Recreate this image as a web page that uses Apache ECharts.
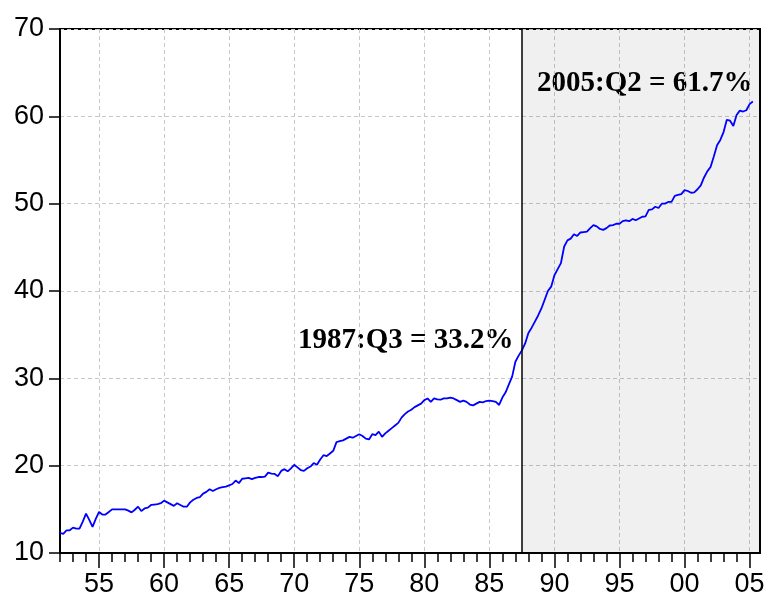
<!DOCTYPE html>
<html>
<head>
<meta charset="utf-8">
<script src="https://cdn.jsdelivr.net/npm/echarts@6/dist/echarts.min.js"></script>
<style>
  html, body { margin: 0; padding: 0; background: #fff; }
  #main { width: 770px; height: 598px; }
</style>
</head>
<body>
<div id="main"></div>
<script>
// quarterly share, 1952:Q1 .. 2005:Q2
let startYear = 1952;
let values = [
  12.3, 12.2, 12.6, 12.6,   // 1952
  12.9, 12.8, 12.8, 13.6,   // 1953
  14.5, 13.8, 13.0, 13.9,   // 1954
  14.7, 14.4, 14.4, 14.7,   // 1955
  15.0, 15.0, 15.0, 15.0,   // 1956
  15.0, 14.85, 14.65, 14.95,// 1957
  15.3, 14.8, 15.1, 15.2,   // 1958
  15.5, 15.55, 15.6, 15.7,  // 1959
  16.0, 15.8, 15.6, 15.4,   // 1960
  15.7, 15.5, 15.3, 15.3,   // 1961
  15.8, 16.1, 16.3, 16.4,   // 1962
  16.8, 17.0, 17.3, 17.1,   // 1963
  17.3, 17.45, 17.55, 17.6, // 1964
  17.75, 17.9, 18.3, 18.0,  // 1965
  18.5, 18.55, 18.6, 18.45, // 1966
  18.6, 18.7, 18.7, 18.75,  // 1967
  19.2, 19.1, 19.05, 18.8,  // 1968
  19.4, 19.6, 19.35, 19.7,  // 1969
  20.1, 19.8, 19.5, 19.4,   // 1970
  19.7, 19.9, 20.3, 20.1,   // 1971
  20.7, 21.2, 21.1, 21.4,   // 1972
  21.7, 22.7, 22.8, 22.9,   // 1973
  23.1, 23.3, 23.2, 23.4,   // 1974
  23.6, 23.4, 23.1, 23.0,   // 1975
  23.6, 23.5, 23.9, 23.3,   // 1976
  23.7, 24.0, 24.3, 24.6,   // 1977
  24.9, 25.5, 25.9, 26.2,   // 1978
  26.4, 26.7, 26.9, 27.1,   // 1979
  27.5, 27.7, 27.3, 27.7,   // 1980
  27.6, 27.55, 27.7, 27.7,  // 1981
  27.8, 27.7, 27.5, 27.3,   // 1982
  27.45, 27.3, 27.0, 26.9,  // 1983
  27.1, 27.3, 27.25, 27.4,  // 1984
  27.45, 27.4, 27.3, 26.95, // 1985
  27.8, 28.4, 29.3, 30.2,   // 1986
  31.9, 32.6, 33.2, 34.0,   // 1987
  35.2, 35.8, 36.5, 37.2,   // 1988
  38.0, 39.0, 40.0, 40.5,   // 1989
  41.8, 42.5, 43.2, 45.1,   // 1990
  45.8, 46.0, 46.5, 46.3,   // 1991
  46.7, 46.75, 46.8, 47.2,  // 1992
  47.55, 47.4, 47.1, 47.0,  // 1993
  47.2, 47.5, 47.55, 47.7,  // 1994
  47.7, 48.0, 48.1, 48.0,   // 1995
  48.25, 48.1, 48.3, 48.5,  // 1996
  48.55, 49.3, 49.35, 49.65,// 1997
  49.5, 50.0, 50.0, 50.2,   // 1998
  50.2, 50.9, 51.0, 51.1,   // 1999
  51.55, 51.45, 51.25, 51.3,// 2000
  51.65, 52.1, 53.0, 53.7,  // 2001
  54.2, 55.4, 56.7, 57.3,   // 2002
  58.2, 59.6, 59.5, 58.9,   // 2003
  60.15, 60.65, 60.55, 60.7,// 2004
  61.4, 61.7                // 2005
];
let breakPoint = 1987.5;   // 1987:Q3
let yearTicks = [];
for (let y = 1952; y <= 2005; y++) yearTicks.push(y);
let labelYears = [1955, 1960, 1965, 1970, 1975, 1980, 1985, 1990, 1995, 2000, 2005];
let yTicks = [10, 20, 30, 40, 50, 60, 70];
let notes = ['1987:Q3 = 33.2%', '2005:Q2 = 61.7%'];

let seriesData = values.map(function(v, i){
  return [startYear + i / 4, v];
});

let xMin = 1952, xMax = 2005.8;
let font = 'Liberation Sans, Arial, sans-serif';
let noteFont = 'bold 29px "Liberation Serif", "Times New Roman", serif';
let gridStyle = { show: true, lineStyle: { color: '#c8c8c8', type: [4, 3], width: 1 } };

var myChart = echarts.init(document.getElementById('main'));
var option = {
  backgroundColor: '#fff',
  animation: false,
  grid: {
    left: 60, right: 10, top: 29, bottom: 45,
    show: true, borderColor: '#000', borderWidth: 2, backgroundColor: '#fff'
  },
  xAxis: [
    {
      // yearly minor ticks
      type: 'value', min: xMin, max: xMax,
      axisLine: { show: true, lineStyle: { color: '#000', width: 2 } },
      axisTick: { show: true, customValues: yearTicks, length: 9, lineStyle: { color: '#000', width: 1.5 } },
      axisLabel: { show: false },
      splitLine: { show: false }
    },
    {
      // five-year ticks, labels and grid lines
      type: 'value', min: xMin, max: xMax, position: 'bottom',
      axisLine: { show: false },
      axisTick: { show: true, customValues: labelYears, length: 15, lineStyle: { color: '#000', width: 1.5 } },
      axisLabel: {
        show: true, customValues: labelYears, margin: 18,
        fontFamily: font, fontSize: 27, color: '#000',
        formatter: function(v){ return String(Math.round(v) % 100).padStart(2, '0'); }
      },
      splitLine: gridStyle
    }
  ],
  yAxis: {
    type: 'value', min: 10, max: 70, interval: 10,
    axisLine: { show: true, lineStyle: { color: '#000', width: 2 } },
    axisTick: { show: true, length: 11, lineStyle: { color: '#000', width: 1.5 } },
    axisLabel: {
      fontFamily: font, fontSize: 27, color: '#000', margin: 16,
      customValues: yTicks
    },
    splitLine: gridStyle
  },
  series: [
    {
      type: 'line',
      xAxisIndex: 0,
      data: seriesData,
      showSymbol: false,
      lineStyle: { color: '#0000ff', width: 1.8 },
      markArea: {
        silent: true,
        itemStyle: { color: 'rgba(0,0,0,0.06)' },
        data: [[{ xAxis: breakPoint }, { xAxis: xMax }]]
      },
      markLine: {
        silent: true,
        symbol: 'none',
        label: { show: false },
        lineStyle: { color: '#000', width: 1.5, type: 'solid' },
        data: [{ xAxis: breakPoint }]
      }
    }
  ],
  graphic: [
    {
      type: 'text', left: 298, top: 326,
      style: { text: notes[0], font: noteFont, fill: '#000' }
    },
    {
      type: 'text', left: 537, top: 69,
      style: { text: notes[1], font: noteFont, fill: '#000' }
    }
  ]
};
myChart.setOption(option);
</script>
</body>
</html>
